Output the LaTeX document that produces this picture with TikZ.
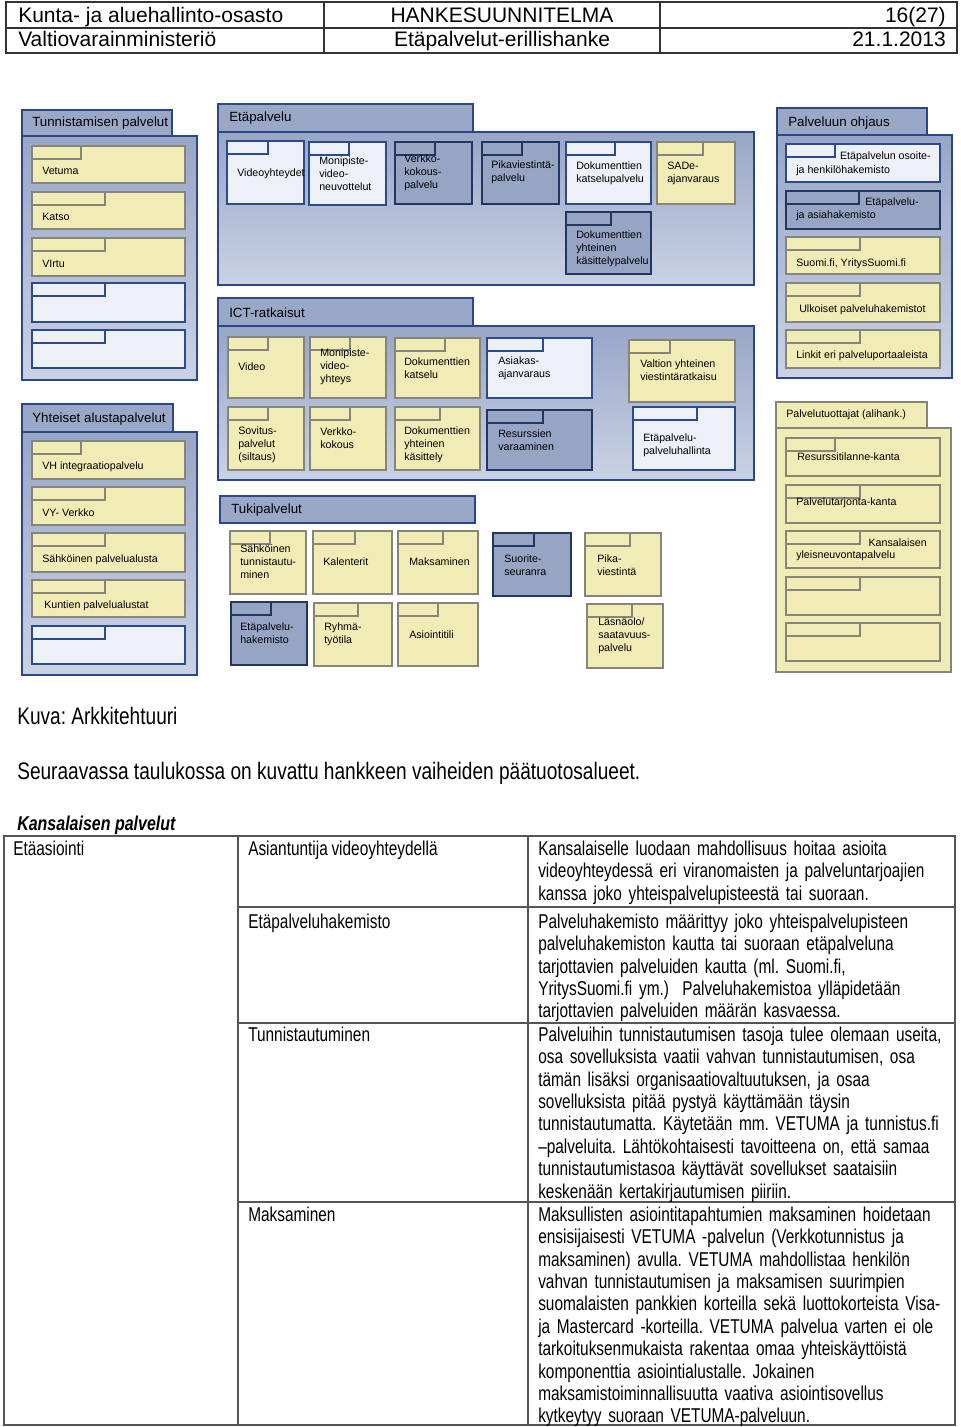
\documentclass[tikz,border=0pt]{standalone}
\usepackage{fontspec}
\setmainfont{Liberation Sans}
\newfontfamily\narA[FakeStretch=0.8]{Liberation Sans}
\newfontfamily\narT[FakeStretch=0.77,WordSpace=0.85]{Liberation Sans}
\frenchspacing
\definecolor{gtop}{HTML}{98A6C7}
\definecolor{gbot}{HTML}{CAD2E4}
\definecolor{gtabc}{HTML}{9AA8C8}
\definecolor{grpline}{HTML}{2B4785}
\definecolor{ylfill}{HTML}{F1ECB6}
\definecolor{ylline}{HTML}{85857A}
\definecolor{whfill}{HTML}{EEF0F7}
\definecolor{whline}{HTML}{2C4B8C}
\definecolor{dkfill}{HTML}{97A5C5}
\definecolor{dkline}{HTML}{223660}
\definecolor{tblline}{HTML}{555555}
\newcommand\bx[6]{%
  \draw[#1] (#2,#3) rectangle (#4,#5);
  \draw[#1] (#2,#3) rectangle (#6,#3+13);
}
\tikzset{
 yl/.style={fill=ylfill, draw=ylline, line width=1.5pt},
 wh/.style={fill=whfill, draw=whline, line width=1.5pt},
 dk/.style={fill=dkfill, draw=dkline, line width=1.5pt},
 grp/.style={draw=grpline, line width=2pt, top color=gtop, bottom color=gbot},
 gtab/.style={draw=grpline, line width=2pt, fill=gtabc},
 ygrp/.style={draw=ylline, line width=1.5pt, fill=ylfill},
 tx/.style={font=\fontsize{8}{9.75}\selectfont, align=left, anchor=west, inner sep=0pt},
 txe/.style={tx, anchor=east},
 gt/.style={font=\fontsize{10}{12}\selectfont, anchor=west, inner sep=0pt},
 hdt/.style={font=\fontsize{15.75}{18}\selectfont, inner sep=0pt},
 hdl/.style={draw=black!80, line width=0.8pt},
 bodyt/.style={font=\narA\fontsize{17.9}{21}\selectfont, anchor=base west, inner sep=0pt},
 cell/.style={font=\narT\fontsize{15}{16.8}\selectfont, anchor=base west, inner sep=0pt},
 para/.style={font=\narT\fontsize{15}{16.8}\selectfont, anchor=north west, inner sep=0pt, text width=330pt, align=left},
 rulel/.style={draw=tblline, line width=1.1pt},
}
\begin{document}
\begin{tikzpicture}[x=0.75pt,y=-0.75pt]
\useasboundingbox (0,0) rectangle (960,1427);
\fill[white] (0,0) rectangle (960,1427);

% ---------- header table ----------
\draw[hdl] (6,2) rectangle (957,53);
\draw[hdl] (6,28) -- (957,28);
\draw[hdl] (324,2) -- (324,53);
\draw[hdl] (660,2) -- (660,53);
\node[hdt,anchor=base west] (h1) at (18,22.5) {Kunta- ja aluehallinto-osasto};
\node[hdt,anchor=base west] (h2) at (18,47) {Valtiovarainministeriö};
\node[hdt,anchor=base] (h3) at (502,22.5) {HANKESUUNNITELMA};
\node[hdt,anchor=base] (h4) at (502,47) {Etäpalvelut-erillishanke};
\node[hdt,anchor=base east] (h5) at (946,22.5) {16(27)};
\node[hdt,anchor=base east] (h6) at (946,47) {21.1.2013};

% ---------- group frames ----------
\draw[grp] (22,136) rectangle (197,380);
\draw[gtab] (22,110) rectangle (172,136);
\draw[grp] (218,132) rectangle (754,285);
\draw[gtab] (218,104) rectangle (473,132);
\draw[grp] (777,135) rectangle (952,378);
\draw[gtab] (777,108) rectangle (927,135);
\draw[grp] (218,326) rectangle (754,480);
\draw[gtab] (218,298) rectangle (473,326);
\draw[grp] (22,432) rectangle (197,675);
\draw[gtab] (22,404) rectangle (173,432);
\draw[gtab] (220,496) rectangle (475,523);
\draw[ygrp] (776,428) rectangle (951,672);
\draw[ygrp] (776,402) rectangle (927,428);

\node[gt] (g1) at (32,123) {Tunnistamisen palvelut};
\node[gt] (g2) at (229,118) {Etäpalvelu};
\node[gt] (g3) at (788,123) {Palveluun ohjaus};
\node[gt] (g4) at (229,313) {ICT-ratkaisut};
\node[gt] (g5) at (32,419) {Yhteiset alustapalvelut};
\node[gt] (g6) at (231,510) {Tukipalvelut};
\node[gt,font=\fontsize{8}{10}\selectfont] (g7) at (786,415) {Palvelutuottajat (alihank.)};

% ---------- Tunnistamisen palvelut ----------
\bx{yl}{32}{146}{185}{183}{81}
\bx{yl}{32}{192}{185}{229}{105}
\bx{yl}{32}{238}{185}{276}{105}
\bx{wh}{32}{283}{185}{322}{105}
\bx{wh}{32}{330}{185}{368}{105}
\node[tx] (t1) at (42,171) {Vetuma};
\node[tx] (t2) at (42,217) {Katso};
\node[tx] (t3) at (42,264) {VIrtu};

% ---------- Etapalvelu ----------
\bx{wh}{227}{141}{304}{204}{268}
\bx{wh}{309}{142}{386}{205}{349}
\bx{dk}{395}{142}{472}{204}{435}
\bx{dk}{482}{142}{559}{204}{522}
\bx{wh}{566}{142}{651}{204}{615}
\bx{yl}{657}{142}{735}{204}{703}
\bx{dk}{566}{212}{651}{274}{611}
\node[tx] (e1) at (237,174) {Videoyhteydet};
\node[tx] (e2) at (319,174) {Monipiste-\\video-\\neuvottelut};
\node[tx] (e3) at (404,173) {Verkko-\\kokous-\\palvelu};
\node[tx] (e4) at (491,172) {Pikaviestintä-\\palvelu};
\node[tx] (e5) at (576,173) {Dokumenttien\\katselupalvelu};
\node[tx] (e6) at (667,173) {SADe-\\ajanvaraus};
\node[tx] (e7) at (576,249) {Dokumenttien\\yhteinen\\käsittelypalvelu};

% ---------- Palveluun ohjaus ----------
\bx{wh}{786}{144}{940}{182}{835}
\bx{dk}{786}{191}{940}{229}{859}
\bx{yl}{786}{237}{940}{274}{860}
\bx{yl}{786}{283}{940}{322}{860}
\bx{yl}{786}{330}{940}{368}{860}
\node[txe] (p1a) at (931,157) {Etäpalvelun osoite-};
\node[tx] (p1b) at (796,171) {ja henkilöhakemisto};
\node[tx] (p2a) at (865,203) {Etäpalvelu-};
\node[tx] (p2b) at (796,216) {ja asiahakemisto};
\node[tx] (p3) at (796,264) {Suomi.fi, YritysSuomi.fi};
\node[tx] (p4) at (799,310) {Ulkoiset palveluhakemistot};
\node[tx] (p5) at (796,356) {Linkit eri palveluportaaleista};

% ---------- ICT-ratkaisut ----------
\bx{yl}{228}{337}{304}{398}{268}
\bx{yl}{310}{337}{386}{398}{350}
\bx{yl}{395}{338}{480}{398}{445}
\bx{wh}{487}{338}{592}{398}{543}
\bx{yl}{629}{340}{735}{402}{670}
\bx{yl}{228}{407}{304}{470}{268}
\bx{yl}{310}{407}{386}{470}{350}
\bx{yl}{395}{407}{480}{470}{440}
\bx{dk}{487}{410}{592}{470}{543}
\bx{wh}{633}{407}{735}{470}{697}
\node[tx] (i1) at (238,367) {Video};
\node[tx] (i2) at (320,367) {Monipiste-\\video-\\yhteys};
\node[tx] (i3) at (404,368) {Dokumenttien\\katselu};
\node[tx] (i4) at (498,368) {Asiakas-\\ajanvaraus};
\node[tx] (i5) at (640,370) {Valtion yhteinen\\viestintäratkaisu};
\node[tx] (i6) at (238,445) {Sovitus-\\palvelut\\(siltaus)};
\node[tx] (i7) at (320,438) {Verkko-\\kokous};
\node[tx] (i8) at (404,445) {Dokumenttien\\yhteinen\\käsittely};
\node[tx] (i9) at (498,440) {Resurssien\\varaaminen};
\node[tx] (i10) at (643,445) {Etäpalvelu-\\palveluhallinta};

% ---------- Yhteiset alustapalvelut ----------
\bx{yl}{32}{441}{185}{479}{81}
\bx{yl}{32}{487}{185}{525}{105}
\bx{yl}{32}{533}{185}{572}{105}
\bx{yl}{32}{580}{185}{617}{105}
\bx{wh}{32}{626}{185}{664}{105}
\node[tx] (y1) at (42,467) {VH integraatiopalvelu};
\node[tx] (y2) at (42,513) {VY- Verkko};
\node[tx] (y3) at (42,560) {Sähköinen palvelualusta};
\node[tx] (y4) at (44,606) {Kuntien palvelualustat};

% ---------- Tukipalvelut ----------
\bx{yl}{230}{531}{306}{594}{270}
\bx{yl}{313}{531}{392}{594}{355}
\bx{yl}{398}{531}{478}{594}{443}
\bx{dk}{493}{533}{571}{596}{534}
\bx{yl}{585}{533}{661}{596}{630}
\bx{dk}{231}{602}{307}{665}{271}
\bx{yl}{314}{603}{392}{666}{358}
\bx{yl}{398}{603}{478}{666}{438}
\bx{yl}{587}{604}{663}{668}{632}
\node[tx] (k1) at (240,562) {Sähköinen\\tunnistautu-\\minen};
\node[tx] (k2) at (323,562) {Kalenterit};
\node[tx] (k3) at (409,562) {Maksaminen};
\node[tx] (k4) at (504,565) {Suorite-\\seuranra};
\node[tx] (k5) at (597,565) {Pika-\\viestintä};
\node[tx] (k6) at (240,633) {Etäpalvelu-\\hakemisto};
\node[tx] (k7) at (324,634) {Ryhmä-\\työtila};
\node[tx] (k8) at (409,635) {Asiointitili};
\node[tx] (k9) at (598,636) {Läsnäolo/\\saatavuus-\\palvelu};

% ---------- Palvelutuottajat ----------
\bx{yl}{786}{438}{940}{476}{835}
\bx{yl}{786}{485}{940}{523}{860}
\bx{yl}{786}{531}{940}{568}{860}
\bx{yl}{786}{577}{940}{615}{860}
\bx{yl}{786}{623}{940}{661}{860}
\node[tx] (r1) at (797,457) {Resurssitilanne-kanta};
\node[tx] (r2) at (796,503) {Palvelutarjonta-kanta};
\node[txe] (r3a) at (927,543) {Kansalaisen};
\node[tx] (r3b) at (796,556) {yleisneuvontapalvelu};

% ---------- text below ----------
\node[bodyt] (cap) at (17,724) {Kuva: Arkkitehtuuri};
\node[bodyt] (intro) at (17,779) {Seuraavassa taulukossa on kuvattu hankkeen vaiheiden päätuotosalueet.};
\node[cell,font=\narA\bfseries\itshape\fontsize{15}{16.8}\selectfont] (tt) at (17,830) {Kansalaisen palvelut};

% ---------- table ----------
\draw[rulel] (4,836) rectangle (955,1425);
\draw[rulel] (238,836) -- (238,1425);
\draw[rulel] (528,836) -- (528,1425);
\draw[rulel] (238,907) -- (955,907);
\draw[rulel] (238,1023) -- (955,1023);
\draw[rulel] (238,1202) -- (955,1202);

\node[cell] (c11) at (13,855) {Etäasiointi};
\node[cell] (c12) at (248,855) {Asiantuntija videoyhteydellä};
\node[cell] (c22) at (248,928) {Etäpalveluhakemisto};
\node[cell] (c32) at (248,1041) {Tunnistautuminen};
\node[cell] (c42) at (248,1221) {Maksaminen};

\node[para] (c13) at (538,839.3) {\strut Kansalaiselle luodaan mahdollisuus hoitaa asioita\\
videoyhteydessä eri viranomaisten ja palveluntarjoajien\\
kanssa joko yhteispalvelupisteestä tai suoraan.};
\node[para] (c23) at (538,912.3) {\strut Palveluhakemisto määrittyy joko yhteispalvelupisteen\\
palveluhakemiston kautta tai suoraan etäpalveluna\\
tarjottavien palveluiden kautta (ml. Suomi.fi,\\
YritysSuomi.fi ym.) \ Palveluhakemistoa ylläpidetään\\
tarjottavien palveluiden määrän kasvaessa.};
\node[para] (c33) at (538,1025.3) {\strut Palveluihin tunnistautumisen tasoja tulee olemaan useita,\\
osa sovelluksista vaatii vahvan tunnistautumisen, osa\\
tämän lisäksi organisaatiovaltuutuksen, ja osaa\\
sovelluksista pitää pystyä käyttämään täysin\\
tunnistautumatta. Käytetään mm. VETUMA ja tunnistus.fi\\
–palveluita. Lähtökohtaisesti tavoitteena on, että samaa\\
tunnistautumistasoa käyttävät sovellukset saataisiin\\
keskenään kertakirjautumisen piiriin.};
\node[para] (c43) at (538,1205.3) {\strut Maksullisten asiointitapahtumien maksaminen hoidetaan\\
ensisijaisesti VETUMA -palvelun (Verkkotunnistus ja\\
maksaminen) avulla. VETUMA mahdollistaa henkilön\\
vahvan tunnistautumisen ja maksamisen suurimpien\\
suomalaisten pankkien korteilla sekä luottokorteista Visa-\\
ja Mastercard -korteilla. VETUMA palvelua varten ei ole\\
tarkoituksenmukaista rakentaa omaa yhteiskäyttöistä\\
komponenttia asiointialustalle. Jokainen\\
maksamistoiminnallisuutta vaativa asiointisovellus\\
kytkeytyy suoraan VETUMA-palveluun.};
\end{tikzpicture}
\end{document}
